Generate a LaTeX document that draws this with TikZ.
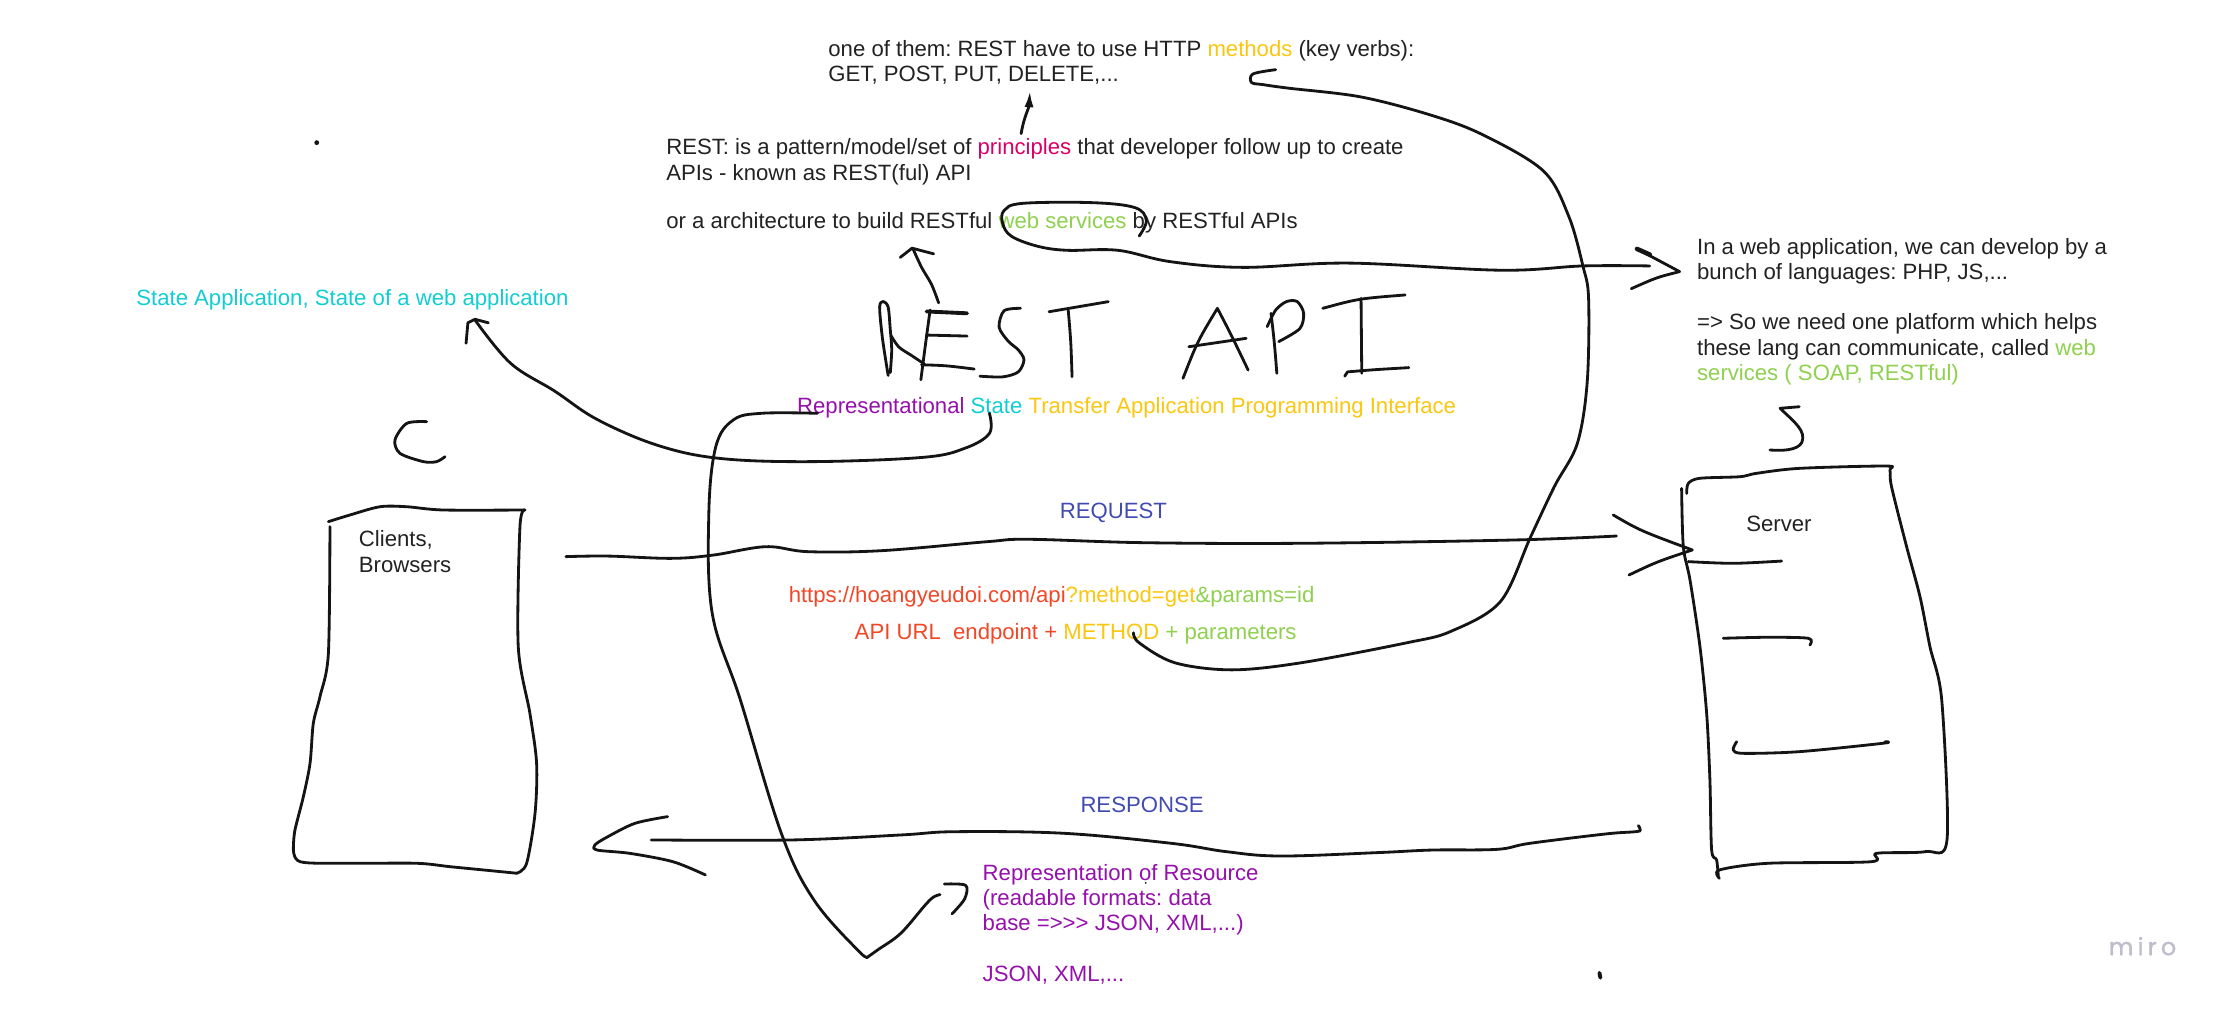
\documentclass[tikz,border=0pt]{standalone}
\usepackage{xcolor}
\usepackage{fontspec}
\setmainfont{Liberation Sans}
\newfontfamily\mirofont{Poppins}[FakeBold=1.2]
\usetikzlibrary{arrows.meta}
\definecolor{ink}{HTML}{141414}
\definecolor{txt}{HTML}{222222}
\definecolor{myellow}{HTML}{FAC710}
\definecolor{mpink}{HTML}{DA0063}
\definecolor{mgreen}{HTML}{8FD14F}
\definecolor{mcyan}{HTML}{12CDD4}
\definecolor{mpurple}{HTML}{9510AC}
\definecolor{mblue}{HTML}{414BB2}
\definecolor{mred}{HTML}{F24726}
\definecolor{mirogray}{HTML}{BDBDCB}

\begin{document}
\begin{tikzpicture}[x=0.014222cm, y=-0.014222cm, font=\fontsize{6.3}{7.2}\selectfont\frenchspacing,
  pen/.style={ink, line width=0.8pt, line cap=round, line join=round},
  note/.style={anchor=west, inner sep=0pt, align=left, text=txt},
  label/.style={inner sep=0pt, text=mblue}]
  \useasboundingbox (0,0) rectangle (1568,709);
  \fill[white] (0,0) rectangle (1568,709);

  % Texty
  \node[note] (verbs) at (582,44)
    {one of them: REST have to use HTTP \textcolor{myellow}{methods} (key verbs):\\GET, POST, PUT, DELETE,...};
  \node[note] (restdef) at (468,130.6)
    {REST: is a pattern/model/set of \textcolor{mpink}{principles} that developer follow up to create\\APIs - known as REST(ful) API\\[6.5pt]or a architecture to build RESTful \textcolor{mgreen}{web services} by RESTful APIs};
  \node[note, text=mcyan] (stateapp) at (95.4,211) {State Application, State of a web application};
  \node[note] (acronym) at (560,287)
    {\textcolor{mpurple}{Representational} \textcolor{mcyan}{State} \textcolor{myellow}{Transfer Application Programming Interface}};
  \node[note] (webapp) at (1192.8,219.1)
    {In a web application, we can develop by a\\bunch of languages: PHP, JS,...\\[7.2pt]={>} So we need one platform which helps\\these lang can communicate, called \textcolor{mgreen}{web}\\\textcolor{mgreen}{services ( SOAP, RESTful)}};
  \node[note] (clients) at (251.9,387.9) {Clients,\\Browsers};
  \node[label] (request) at (782.8,360.9) {REQUEST};
  \node[note] (url) at (554.1,419.5)
    {\textcolor{mred}{https://hoangyeudoi.com/api}\textcolor{myellow}{?method=get}\textcolor{mgreen}{\&params=id}};
  \node[note] (endpoint) at (600.5,445.3)
    {\textcolor{mred}{API URL\ \ endpoint +} \textcolor{myellow}{METHOD} \textcolor{mgreen}{+ parameters}};
  \node[note] (server) at (1227.4,368.4) {Server};
  \node[label] (response) at (803,566) {RESPONSE};
  \node[note, text=mpurple] (resource) at (690.5,649.8)
    {Representation of Resource\\(readable formats: data\\base ={>}{>}{>} JSON, XML,...)\\[7.2pt]JSON, XML,...};
  \node[inner sep=0pt, text=mirogray, font=\mirofont\fontsize{6.8}{8}\selectfont] (miro) at (1506.5,665.3)
    {m\hspace{1.2pt}i\hspace{1.2pt}r\hspace{1.2pt}o};

  % REST API psane rukou
  \draw[pen] plot[smooth] coordinates {(624.5,264) (620.5,238) (618.5,216) (621,212) (624.5,216) (626,232) (627,246) (626,262)};
  \draw[pen] plot[smooth] coordinates {(626.5,236) (632,244) (641,250) (650,256)};
  \draw[pen] (654,218) .. controls (651,240) .. (647.5,267);
  \draw[pen, line width=1.1pt] (651.5,219) -- (680,220.3);
  \draw[pen] (651.5,235.6) -- (680,236.3);
  \draw[pen] (648,256.5) .. controls (665,257) .. (685,259.5);
  \draw[pen] plot[smooth] coordinates {(717.5,216.8) (706,218.5) (702.5,230) (709,240) (716,246) (720,253) (716,261.5) (705,265) (689,264.5)};
  \draw[pen] (737.6,219.2) -- (779.3,212.1);
  \draw[pen] (751.1,218) .. controls (753,240) .. (753.8,264.9);
  \draw[pen] (831.8,266) .. controls (842,240) .. (856,216.8) .. controls (866,236) .. (877.6,260.2);
  \draw[pen] (835.9,243.8) -- (876.2,237.9);
  \draw[pen] (893.7,220.3) .. controls (896,240) .. (897.8,262.5);
  \draw[pen] plot[smooth] coordinates {(891,229.7) (897,218) (904.5,212.1) (912,212) (916.6,220) (914,231) (899.1,240.2)};
  \draw[pen] (930.1,216.8) .. controls (955,210) .. (988,207.4);
  \draw[pen] (957,209.8) -- (957.5,262.5);
  \draw[pen] (945.5,264.5) -- (947.5,261.5) .. controls (965,260) .. (990.6,258.5);

  % sipka k metodam
  \draw[pen, -{Latex[length=4.6pt, width=2.6pt]}] (718,94) .. controls (720,82) and (723.5,76) .. (724.2,64);
  % methods -> METHOD
  \draw[pen] plot[smooth, tension=0.55] coordinates {(897,49) (881,52) (880,58) (888,59.5) (906,62) (956,68) (1003,80) (1041,94) (1085,120) (1103,152) (1113,187) (1117,210) (1116,269) (1109,312) (1093,342) (1076,378) (1055,423) (1020,444) (989,452) (915,466) (866,471) (826,466) (801,452) (797,445)};
  % web services -> platforma
  \draw[pen] plot[smooth, tension=0.6] coordinates {(801,166) (806,155) (798,146) (768,142.5) (719,143) (706,148) (705,157) (711,166) (729,173) (750,176) (786,176) (823,184) (874,188) (949,185) (1055,190) (1113,187) (1160,187)};
  \draw[pen, line width=1.3pt] (1151,175) -- (1160,179);
  \draw[pen] (1151,175) -- (1181,191) .. controls (1165,195) .. (1147,203);
  % REST API -> definice
  \draw[pen] plot[smooth] coordinates {(660,213) (655,200) (648,188) (642,175)};
  \draw[pen] (633,181) -- (641.3,174.5) -- (656.5,178.5);
  % State -> State Application
  \draw[pen] plot[smooth, tension=0.6] coordinates {(695.7,290.6) (695.7,304.7) (678.4,315.2) (648.8,321.6) (569.9,324.6) (505.8,322.3) (462,313) (420,295) (390,275) (359,255.4) (334,225)};
  \draw[pen] (327.7,241.4) -- (329,227) -- (334,224.5) -- (343.4,227);
  % Representational -> Resource
  \draw[pen] plot[smooth, tension=0.6] coordinates {(574.8,290.6) (535.4,290.6) (515.6,295.3) (503.3,314.1) (498.4,361) (500.8,431.3) (520.6,492.2) (549.4,586) (572.3,632.8) (604,669) (610.4,672.7)};
  \draw[pen] plot[smooth, tension=0.6] coordinates {(610.4,672.7) (617,668) (633.3,656.3) (650,637) (656,631) (661,629)};
  \draw[pen] plot[smooth, tension=0.5] coordinates {(664,621.6) (679,622.5) (678.3,632) (669.5,642.5)};

  % klient
  \draw[pen] plot[smooth] coordinates {(230.9,366.8) (246.1,362.1) (267.2,356.3) (286,356.3) (311.7,358.6) (369.1,358.6)};
  \draw[pen] plot[smooth] coordinates {(369.1,358.6) (365.6,370.3) (364.4,454.7) (372.6,501.6) (377.3,536.7) (376.2,571.9) (370.3,607) (363.3,614)};
  \draw[pen] plot[smooth] coordinates {(363.3,614) (339.9,611.7) (316.4,609.4) (293,607) (246.1,607) (211,605.9) (206.3,595.3)};
  \draw[pen] plot[smooth] coordinates {(206.3,595.3) (207.4,583.6) (213.3,560.2) (218,536.7) (220.3,508.6) (225,489.8) (230.9,459.4) (232,370.3)};
  \draw[pen] plot[smooth] coordinates {(300,296.5) (286,297.7) (277.7,309.4) (281.3,318.8) (297.7,324.6) (307,324.6) (312.9,321.1)};

  % request
  \draw[pen] plot[smooth, tension=0.6] coordinates {(397.9,391.4) (427.5,391) (471.9,392.6) (501.5,390.3) (538.5,384.4) (568.1,387.9) (619.9,387.2) (693.9,380.9) (723.5,379.2) (805,381.6) (916,382) (1064,379.7) (1136.6,376.9)};
  \draw[pen] (1134.3,362.1) .. controls (1153,373) .. (1189.9,386.7) .. controls (1165,395) .. (1145.4,404.3);

  % server
  \draw[pen] plot[smooth] coordinates {(1186,346.9) (1187.1,339.9) (1195.3,336.3) (1223.4,335.2) (1235.2,332.8) (1265.6,329.3) (1326.5,327.7) (1328.9,330.5) (1330,342.2) (1340.6,384.4) (1350,419.5) (1357,454.7) (1365.3,492.2) (1369,590.6) (1353.9,598.8) (1319.5,600) (1315.7,605.9) (1243.3,607) (1209,611.7) (1209,617.6)};
  \draw[pen] plot[smooth] coordinates {(1182.4,343.4) (1183.6,384.4) (1188.3,407.8) (1195.3,454.7) (1200,501.6) (1202.3,548.4) (1203.5,597.6) (1207,604.7) (1208.2,616.4)};
  \draw[pen] plot[smooth] coordinates {(1187.1,394.9) (1218.7,396.1) (1252.7,394.5)};
  \draw[pen] plot[smooth] coordinates {(1211.7,448.8) (1242.2,448.1) (1271.5,448.8) (1272.6,453.5)};
  \draw[pen] plot[smooth] coordinates {(1221.1,521.5) (1218.7,527.3) (1225.8,529.7) (1265.6,528.5) (1324.2,522.6) (1325.4,521.5)};
  \draw[pen] (1265.1,286) -- (1251.6,287.1) .. controls (1262,297) and (1270,303) .. (1267,311) .. controls (1264,317) and (1252,317) .. (1244.5,316.4);

  % response
  \draw[pen] plot[smooth, tension=0.6] coordinates {(1152,580.5) (1153.3,583.5) (1150,584.8) (1128.9,586.4) (1075.5,593) (1052.7,597.2) (1006.9,597.7) (968.8,599.5) (900.2,601.9) (862,598.8) (823.9,593) (747.7,585.9) (671.4,584.8) (633.3,587.1) (557,590.6) (457.9,590.6)};
  \draw[pen] plot[smooth, tension=0.5] coordinates {(469.4,574.2) (446.5,578.9) (427.4,588.3) (418.3,594.1) (419.8,597.7) (442.7,600) (473.2,605.9) (496,615.2)};

  % tecky
  \fill[ink] (222.7,100.3) circle (1.7);
  \draw[pen, line width=1.1pt] (1124.6,684) -- (1125.3,687.5);
  \fill[ink] (805.6,620.8) circle (0.7);
\end{tikzpicture}
\end{document}
